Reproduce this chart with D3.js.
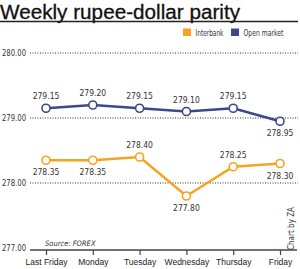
<!DOCTYPE html>
<html><head><meta charset="utf-8">
<script src="https://cdn.jsdelivr.net/npm/d3@7"></script>
<style>
body{margin:0;background:#fff;}
svg{display:block;font-family:"DejaVu Sans Condensed","Liberation Sans Narrow","Arial Narrow","Liberation Sans",Arial,sans-serif;}
</style></head>
<body><svg id="c" width="300" height="269"></svg>
<script>
const days = ["Last Friday","Monday","Tuesday","Wednesday","Thursday","Friday"];
const interbank = [278.35,278.35,278.40,277.80,278.25,278.30];
const openMarket = [279.15,279.20,279.15,279.10,279.15,278.95];
const interbankLabelPos = ["below","below","above","below","above","below"];
const openLabelPos = ["above","above","above","above","above","below"];
const yTicks = [277,278,279,280];
const seriesNames = ["Interbank","Open market"];
const colors = ["#f4a41e","#3c4888"];

const svg = d3.select("#c");
const x = d3.scalePoint().domain(days).range([46,280]);
const y = d3.scaleLinear().domain([277,280]).range([248,53]);

// title
svg.append("text").attr("x",0).attr("y",18.5).attr("font-size",20).attr("fill","#111")
  .attr("font-family","'Liberation Sans',Arial,sans-serif")
  .attr("stroke","#111").attr("stroke-width",0.3)
  .attr("textLength",240).attr("lengthAdjust","spacingAndGlyphs")
  .text("Weekly rupee-dollar parity");
svg.append("line").attr("x1",0).attr("x2",298).attr("y1",21.5).attr("y2",21.5)
  .attr("stroke","#222").attr("stroke-width",1.5);

// legend
const leg = svg.append("g");
const legX = [183,231];
const legW = [28,40];
seriesNames.forEach((n,i)=>{
  leg.append("rect").attr("x",legX[i]).attr("y",28.5).attr("width",8).attr("height",7.5).attr("fill",colors[i]);
  leg.append("text").attr("x",legX[i]+12.5).attr("y",35.5).attr("font-size",9).attr("fill","#333")
    .attr("textLength",legW[i]).attr("lengthAdjust","spacingAndGlyphs").text(n);
});

// gridlines
yTicks.forEach(t=>{
  if(t>277) svg.append("line").attr("x1",30).attr("x2",298).attr("y1",y(t)).attr("y2",y(t))
    .attr("stroke","#333").attr("stroke-width",1).attr("stroke-dasharray","1,1.5");
  svg.append("text").attr("x",2).attr("y",y(t)+3).attr("font-size",8.5).attr("fill","#333")
    .attr("textLength",24).attr("lengthAdjust","spacingAndGlyphs")
    .text(d3.format(".2f")(t));
});

// x axis
const xa = svg.append("g").attr("transform",`translate(0,${y(277)+2})`)
  .call(d3.axisBottom(x).tickSize(5).tickPadding(4));
xa.select(".domain").remove();
xa.insert("line",":first-child").attr("x1",30).attr("x2",297).attr("stroke","#444").attr("stroke-width",1.5);
xa.selectAll(".tick line").attr("stroke","#444").attr("stroke-width",1.2);
xa.selectAll(".tick text").attr("font-size",8.5).attr("fill","#222")
  .attr("font-family",null);

// source & credit
svg.append("text").attr("x",45).attr("y",246).attr("font-size",7.5).attr("font-style","italic")
  .attr("fill","#333").text("Source: FOREX");
svg.append("text").attr("transform","translate(294,250) rotate(-90)").attr("font-size",8)
  .attr("fill","#333").text("Chart by ZA");

// series
const line = d3.line().x((d,i)=>x(days[i])).y(d=>y(d));
[[interbank,interbankLabelPos],[openMarket,openLabelPos]].forEach(([vals,pos],si)=>{
  const g = svg.append("g");
  g.append("path").datum(vals).attr("d",line).attr("fill","none")
    .attr("stroke",colors[si]).attr("stroke-width",2.5);
  g.selectAll("circle").data(vals).join("circle")
    .attr("cx",(d,i)=>x(days[i])).attr("cy",d=>y(d)).attr("r",4)
    .attr("fill","#fff").attr("stroke",colors[si]).attr("stroke-width",1.6);
  g.selectAll("text").data(vals).join("text")
    .attr("x",(d,i)=>x(days[i])).attr("y",(d,i)=>pos[i]==="above"? y(d)-9 : y(d)+15)
    .attr("text-anchor","middle").attr("font-size",8.5).attr("fill","#333")
    .text(d=>d3.format(".2f")(d));
});
</script></body></html>
